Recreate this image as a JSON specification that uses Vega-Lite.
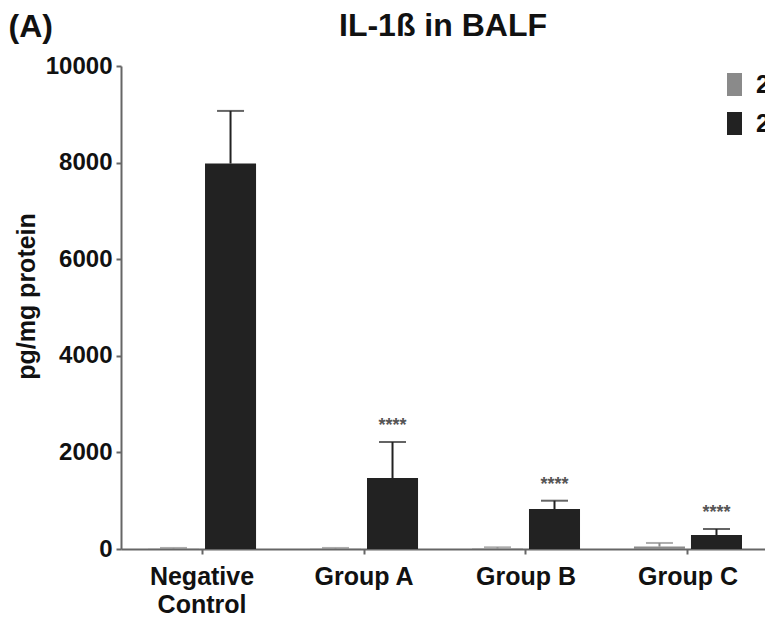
{
  "$schema": "https://vega.github.io/schema/vega-lite/v6.json",
  "width": 644,
  "height": 483,
  "autosize": {"type": "none"},
  "padding": {"left": 121, "top": 66, "right": 0, "bottom": 69},
  "background": "white",
  "title": {
    "text": "IL-1ß in BALF",
    "anchor": "middle",
    "frame": "group",
    "fontSize": 32,
    "fontWeight": "bold",
    "color": "#111111",
    "baseline": "alphabetic",
    "offset": 0,
    "dy": 58
  },
  "config": {
    "font": "Liberation Sans",
    "view": {"stroke": null}
  },
  "data": {
    "values": [
      {"group": "Negative Control", "series": "24 h", "value": 5, "upper": 22, "sig": ""},
      {"group": "Negative Control", "series": "2 wk", "value": 7980, "upper": 9070, "sig": ""},
      {"group": "Group A", "series": "24 h", "value": 5, "upper": 22, "sig": ""},
      {"group": "Group A", "series": "2 wk", "value": 1470, "upper": 2215, "sig": "****"},
      {"group": "Group B", "series": "24 h", "value": 8, "upper": 35, "sig": ""},
      {"group": "Group B", "series": "2 wk", "value": 828, "upper": 1000, "sig": "****"},
      {"group": "Group C", "series": "24 h", "value": 50, "upper": 125, "sig": ""},
      {"group": "Group C", "series": "2 wk", "value": 290, "upper": 414, "sig": "****"}
    ]
  },
  "encoding": {
    "xOffset": {
      "field": "series",
      "type": "nominal",
      "sort": ["24 h", "2 wk"],
      "scale": {"paddingInner": 0.105, "paddingOuter": 0}
    },
    "color": {
      "field": "series",
      "type": "nominal",
      "sort": ["24 h", "2 wk"],
      "scale": {"domain": ["24 h", "2 wk"], "range": ["#8a8a8a", "#222222"]},
      "legend": {
        "title": null,
        "orient": "none",
        "legendX": 601,
        "legendY": 6,
        "padding": 0,
        "symbolType": "M-0.652,-1H0.652V1H-0.652Z",
        "symbolSize": 529,
        "symbolStrokeWidth": 0,
        "symbolOpacity": 1,
        "labelFontSize": 25,
        "labelFontWeight": "bold",
        "labelColor": "#111111",
        "labelOffset": 9,
        "labelLimit": 300,
        "rowPadding": 13
      }
    }
  },
  "layer": [
    {
      "mark": {"type": "bar"},
      "encoding": {
        "x": {
          "field": "group",
          "type": "nominal",
          "sort": ["Negative Control", "Group A", "Group B", "Group C"],
          "scale": {"range": [0, 648], "paddingInner": 0.333, "paddingOuter": 0.1667},
          "axis": {
            "orient": "bottom",
            "title": null,
            "labelAngle": 0,
            "labelFontSize": 25,
            "labelFontWeight": "bold",
            "labelColor": "#111111",
            "labelPadding": 10,
            "labelBaseline": "top",
            "labelLineHeight": 28,
            "labelExpr": "datum.label == 'Negative Control' ? ['Negative', 'Control'] : datum.label",
            "tickSize": 5,
            "tickWidth": 2,
            "tickColor": "#666666",
            "domainColor": "#666666",
            "domainWidth": 2,
            "grid": false
          }
        },
        "y": {
          "field": "value",
          "type": "quantitative",
          "scale": {"domain": [0, 10000], "nice": false},
          "axis": {
            "values": [0, 2000, 4000, 6000, 8000, 10000],
            "format": "d",
            "labelFontSize": 24,
            "labelFontWeight": "bold",
            "labelColor": "#111111",
            "labelPadding": 4,
            "tickSize": 5,
            "tickWidth": 2,
            "tickColor": "#666666",
            "domainColor": "#666666",
            "domainWidth": 2,
            "grid": false,
            "title": "pg/mg protein",
            "titleFontSize": 25,
            "titleFontWeight": "bold",
            "titleColor": "#111111",
            "titlePadding": 6,
            "titleY": 230
          }
        }
      }
    },
    {
      "mark": {"type": "rule", "strokeWidth": 2},
      "encoding": {
        "x": {"field": "group", "type": "nominal", "sort": ["Negative Control", "Group A", "Group B", "Group C"], "axis": null},
        "y": {"field": "value", "type": "quantitative"},
        "y2": {"field": "upper"}
      }
    },
    {
      "mark": {"type": "tick", "thickness": 2, "size": 27},
      "encoding": {
        "x": {"field": "group", "type": "nominal", "sort": ["Negative Control", "Group A", "Group B", "Group C"], "axis": null},
        "y": {"field": "upper", "type": "quantitative"}
      }
    },
    {
      "mark": {"type": "text", "fontSize": 18, "fontWeight": "bold", "baseline": "alphabetic", "dy": -11},
      "encoding": {
        "x": {
          "field": "group",
          "type": "nominal",
          "sort": ["Negative Control", "Group A", "Group B", "Group C"],
          "axis": {
            "orient": "top",
            "labels": false,
            "ticks": false,
            "domain": false,
            "grid": false,
            "title": "(A)",
            "titleFontSize": 32,
            "titleFontWeight": "bold",
            "titleColor": "#111111",
            "titleX": -113,
            "titleY": -30,
            "titleAlign": "left",
            "titleBaseline": "alphabetic",
            "titleAngle": 0
          }
        },
        "y": {"field": "upper", "type": "quantitative"},
        "text": {"field": "sig"},
        "color": {"value": "#555555"}
      }
    }
  ],
  "resolve": {"axis": {"x": "independent"}}
}
